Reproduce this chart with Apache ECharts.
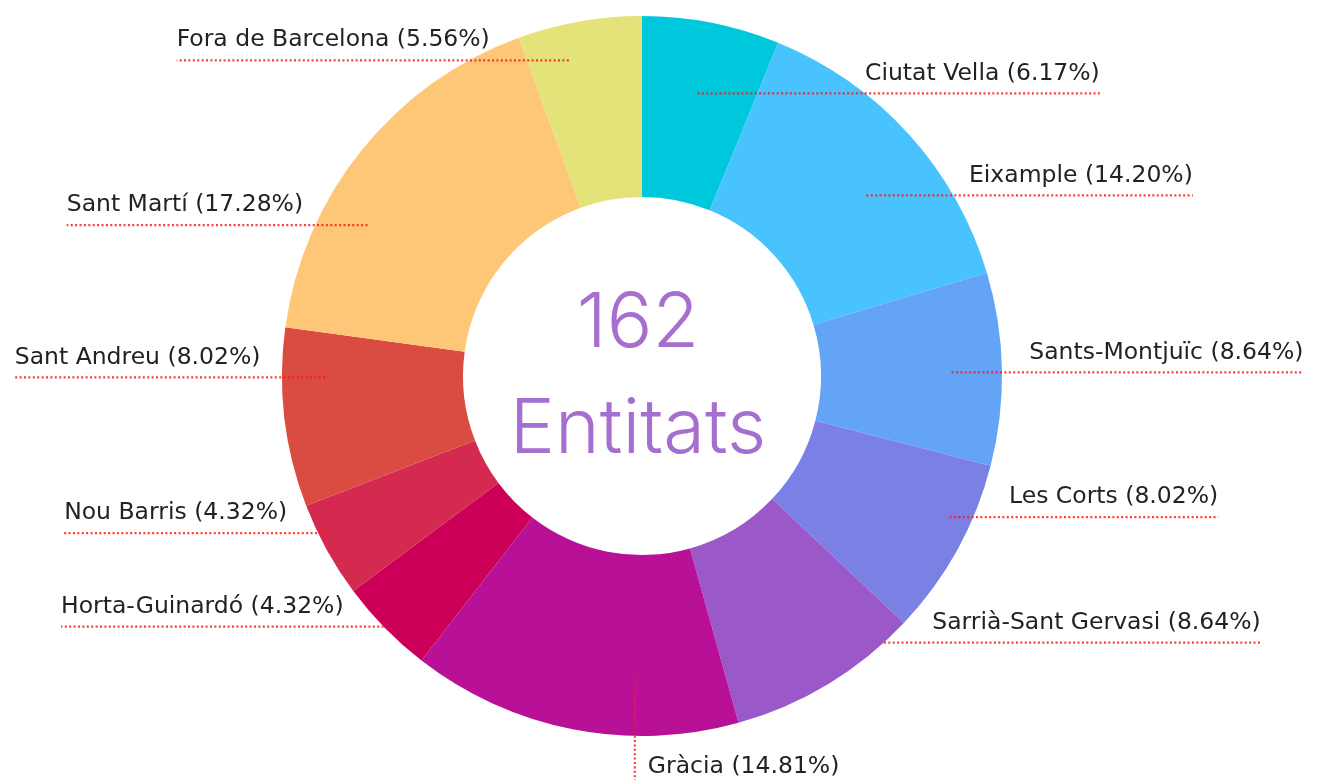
<!DOCTYPE html>
<html>
<head>
<meta charset="utf-8">
<script src="https://cdn.jsdelivr.net/npm/echarts@6/dist/echarts.min.js"></script>
<style>
html,body{margin:0;padding:0;background:#fff;}
#chart{width:1327px;height:780px;}
</style>
</head>
<body>
<div id="chart"></div>
<script>
// ---- data ----
const categories = ['Ciutat Vella','Eixample','Sants-Montjuïc','Les Corts','Sarrià-Sant Gervasi','Gràcia','Horta-Guinardó','Nou Barris','Sant Andreu','Sant Martí','Fora de Barcelona'];
const counts = [10,23,14,13,14,24,7,7,13,28,9];
const sliceColors = ['#00c8dc','#48c3fd','#63a4f7','#7b80e5','#9a58c8','#b81198','#cc0058','#d42a4f','#da4b42','#fec777','#e3e37a'];
const centerWord = 'Entitats';

// ---- label layout tweaks (px nudge of the guide line, start radius as fraction of outer radius) ----
const labelNudgeY = [0,13,2,2,20,0,49,18,-32,30,-32];
const labelStartR = [0.80,0.80,0.86,0.94,1.0,0.84,1.0,0.97,0.88,0.87,0.90];

const total = counts.reduce((a,b)=>a+b,0);
const chart = echarts.init(document.getElementById('chart'), null, {renderer:'canvas'});
const W = 1327, H = 780;
const CX = 642, CY = 376, R = 360, RIN = 179;

const midAngles = [];
{ let acc = 0; counts.forEach(v => { midAngles.push((acc + v/2)/total*360); acc += v; }); }

const LABEL_FONT = 'DejaVu Sans';
const CENTER_FONT = 'Inter';

function layoutLabel(params){
  const i = params.dataIndex;
  const th = midAngles[i] * Math.PI/180;
  const w = params.labelRect.width;
  const deg = midAngles[i];
  if (deg > 165 && deg < 195) {
    const lx = CX - 0.02*R;
    return {
      x: lx + 13, y: CY + R + 31, align:'left', verticalAlign:'middle',
      labelLinePoints:[[lx, CY + labelStartR[i]*R],[lx, H-20],[lx, H]]
    };
  }
  const right = Math.sin(th) >= 0;
  const lineY = CY - 0.8*R*Math.cos(th) + labelNudgeY[i];
  const tcy = lineY - 20;
  const dyT = tcy - CY;
  const edge = Math.abs(dyT) < R ? Math.sqrt(R*R - dyT*dyT) : 0;
  const rs = labelStartR[i]*R;
  const dyL = lineY - CY;
  const sx = Math.abs(dyL) < rs ? Math.sqrt(rs*rs - dyL*dyL) : 0;
  if (right) {
    const tx = CX + edge + 28;
    const x0 = CX + sx, x1 = Math.min(tx + w, W - 2);
    return {x: tx, y: tcy, align:'left', verticalAlign:'middle',
      labelLinePoints:[[x0,lineY],[(x0+x1)/2,lineY],[x1,lineY]]};
  } else {
    const tx = CX - edge - 22;
    const x0 = CX - sx, x1 = Math.max(tx - w, 2);
    return {x: tx, y: tcy, align:'right', verticalAlign:'middle',
      labelLinePoints:[[x0,lineY],[(x0+x1)/2,lineY],[x1,lineY]]};
  }
}

const pieData = categories.map((c,i)=>({name:c, value:counts[i], itemStyle:{color:sliceColors[i]}}));

chart.setOption({
  animation:false,
  title:{
    text: total + '\n' + centerWord,
    left: 633, top: 266, textAlign:'center',
    textStyle:{fontFamily:CENTER_FONT, fontSize:76, fontWeight:300, color:'#a56ecf', lineHeight:106}
  },
  series:[{
    type:'pie',
    z:2,
    center:[CX, CY],
    radius:[RIN, R],
    startAngle:90,
    clockwise:true,
    silent:true,
    itemStyle:{borderWidth:0},
    label:{show:false},
    labelLine:{show:false},
    data: pieData
  },{
    type:'pie',
    z:3,
    center:[CX, CY],
    radius:[RIN, R],
    startAngle:90,
    clockwise:true,
    silent:true,
    avoidLabelOverlap:false,
    itemStyle:{borderWidth:0, color:'rgba(0,0,0,0)'},
    data: categories.map((c,i)=>({name:c, value:counts[i]})),
    label:{
      show:true,
      position:'outside',
      formatter: p => p.name + ' (' + (p.value/total*100).toFixed(2) + '%)',
      fontFamily:LABEL_FONT, fontSize:23.5, color:'#222'
    },
    labelLine:{
      show:true, length:10, length2:10, smooth:false,
      lineStyle:{color:'rgba(255,25,25,0.85)', width:2.2, type:[2,2.4]}
    },
    labelLayout: layoutLabel
  }]
});
</script>
</body>
</html>
